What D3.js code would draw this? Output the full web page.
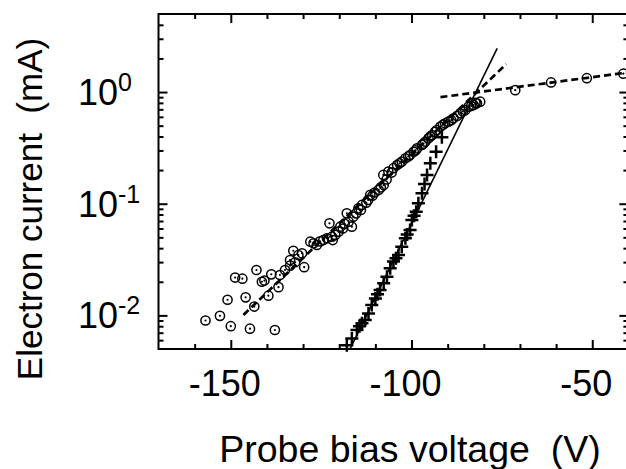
<!DOCTYPE html>
<html lang="en">
    <head>
        <meta charset="utf-8">
        <title>Probe I-V, log scale</title>
        <script type="text/javascript" src="https://d3js.org/d3.v7.min.js"></script>
        <style type="text/css">
            body { margin: 0; background: #fff; }
            text { font-family: "Liberation Sans", Arial, Helvetica, sans-serif; fill: #000; white-space: pre; }
            .frame { fill: none; stroke: #000; stroke-width: 2; }
            .axis path { display: none; }
            .axis line { stroke: #000; stroke-width: 2; }
            .fitSolid { fill: none; stroke: #000; stroke-width: 1.6; }
            .fitDash { fill: none; stroke: #000; stroke-width: 2.7; stroke-dasharray: 7, 4; }
            .circ { fill: none; stroke: #000; stroke-width: 1.5; }
            .dot { fill: #000; }
            .cross { stroke: #000; stroke-width: 2.5; }
        </style>
    </head>
    <body>
        <script type="text/javascript">
            // Tamaño
            var w = 626;
            var h = 469;

            // Ticks y etiquetas
            var xMajorTicks = [-150, -100, -50];
            var xMinorTicks = [-160, -140, -130, -120, -110, -90, -80, -70, -60, -40];
            var yMajorTicks = [0.01, 0.1, 1];
            var yExponents = ["-2", "-1", "0"];
            var yMinorTicks = [0.006, 0.007, 0.008, 0.009,
                               0.02, 0.03, 0.04, 0.05, 0.06, 0.07, 0.08, 0.09,
                               0.2, 0.3, 0.4, 0.5, 0.6, 0.7, 0.8, 0.9, 2, 3, 4];

            // Corriente de electrones (circulos)
            var circleV = [-157.0, -153.0, -150.0, -144.7, -137.8, -150.9, -145.9, -148.8, -146.8, -142.9,
                           -141.4, -140.7, -138.8, -136.8, -139.6, -143.5,
                           -136.4, -135.0, -133.6, -132.2, -133.6, -132.7, -129.7, -131.3, -130.3,
                           -128.0, -127.1, -126.2, -125.3, -124.4, -123.4, -122.0, -121.1, -122.7, -121.8,
                           -120.2, -119.7, -119.0, -118.5, -117.9, -116.5, -117.4, -116.1, -115.3, -114.7,
                           -114.0, -113.7, -112.5, -112.0, -111.4, -110.8, -110.2, -109.1, -108.5, -107.7,
                           -107.8, -106.9, -106.4, -105.5, -105.0, -104.0, -103.3, -102.7, -101.7, -100.9,
                           -100.4, -99.4, -98.9, -98.5, -97.1, -96.7, -96.2, -95.3, -94.8, -94.3, -93.5,
                           -93.0, -92.0, -91.3, -90.7, -89.8, -89.0, -88.4, -87.4,
                           -86.5, -85.8, -85.1, -84.2, -83.5, -82.8, -82.3, -81.9, -81.0,
                           -71.3, -61.4, -51.5, -41.4];
            var circleI = [0.0090, 0.0099, 0.0080, 0.0076, 0.0074, 0.0138, 0.0145, 0.0218, 0.0213, 0.0255,
                           0.0200, 0.0205, 0.0233, 0.0179, 0.0150, 0.0120,
                           0.0230, 0.0255, 0.0279, 0.0299, 0.0313, 0.0379, 0.0270, 0.0347, 0.0360,
                           0.0457, 0.0442, 0.0427, 0.0460, 0.0473, 0.0490, 0.0507, 0.0525, 0.0668, 0.0473,
                           0.0562, 0.0623, 0.0600, 0.0660, 0.0820, 0.0623, 0.0690, 0.0766, 0.0820, 0.0910,
                           0.088, 0.0975, 0.102, 0.108, 0.120, 0.118, 0.126, 0.133, 0.140, 0.147,
                           0.181, 0.165, 0.194, 0.190, 0.208, 0.222, 0.230, 0.238, 0.255, 0.265,
                           0.273, 0.292, 0.300, 0.313, 0.336, 0.345, 0.359, 0.385, 0.400, 0.412, 0.440,
                           0.457, 0.490, 0.510, 0.525, 0.543, 0.560, 0.582, 0.611,
                           0.645, 0.670, 0.690, 0.740, 0.750, 0.766, 0.800, 0.793, 0.820,
                           1.04, 1.22, 1.33, 1.46];

            // Corriente corregida (cruces)
            var crossV = [-117.9, -116.5, -115.1, -114.4, -113.7, -112.8, -111.9, -111.0, -110.0, -109.4,
                          -108.7, -107.7, -106.8, -105.9, -105.0, -104.3, -103.6, -102.7, -101.7, -101.2,
                          -100.4, -99.9, -99.3, -98.7, -98.1, -97.1, -96.4, -95.7, -94.8, -93.2, -91.6];
            var crossI = [0.0054, 0.0062, 0.0074, 0.0080, 0.0085, 0.0091, 0.0104, 0.0124, 0.0142, 0.0155,
                          0.0169, 0.0194, 0.0222, 0.0264, 0.0303, 0.0325, 0.0348, 0.0412, 0.049, 0.053,
                          0.0582, 0.0714, 0.078, 0.0849, 0.101, 0.124, 0.150, 0.181, 0.230, 0.292, 0.394];

            // Rectas de ajuste
            var fitCrossV = [-117, -76.3];
            var fitCrossI = [0.005, 2.46];
            var fitLowV = [-146.5, -73.8];
            var fitLowI = [0.0101, 1.78];
            var fitHighV = [-92, -40];
            var fitHighI = [0.9, 1.5];

            // Escalas (ojo: "top" es palabra reservada de window)
            var mLeft = 158.5, mRight = 628.4, mTop = 14, mBottom = 349;
            var xScale = d3.scaleLinear().domain([-170, -40]).range([mLeft, mRight]);
            var yScale = d3.scaleLog().domain([0.005, 5]).range([mBottom, mTop]);

            var svg = d3.select("body")
                        .append("svg")
                        .attr("width", w)
                        .attr("height", h);

            // Ticks hacia dentro en los 4 lados
            function ticks(axisFn, scale, values, size, tr) {
                svg.append("g")
                    .attr("class", "axis")
                    .attr("transform", tr)
                    .call(axisFn(scale).tickValues(values).tickSizeInner(-size).tickSizeOuter(0).tickFormat(""));
            }
            ticks(d3.axisBottom, xScale, xMajorTicks, 9, "translate(0," + mBottom + ")");
            ticks(d3.axisBottom, xScale, xMinorTicks, 5, "translate(0," + mBottom + ")");
            ticks(d3.axisTop, xScale, xMajorTicks, 9, "translate(0," + mTop + ")");
            ticks(d3.axisTop, xScale, xMinorTicks, 5, "translate(0," + mTop + ")");
            ticks(d3.axisLeft, yScale, yMajorTicks, 9, "translate(" + mLeft + ",0)");
            ticks(d3.axisLeft, yScale, yMinorTicks, 5, "translate(" + mLeft + ",0)");
            ticks(d3.axisRight, yScale, yMajorTicks, 9, "translate(" + mRight + ",0)");
            ticks(d3.axisRight, yScale, yMinorTicks, 5, "translate(" + mRight + ",0)");

            svg.append("rect")
                .attr("class", "frame")
                .attr("x", mLeft)
                .attr("y", mTop)
                .attr("width", mRight - mLeft)
                .attr("height", mBottom - mTop);

            // Etiquetas eje x
            svg.selectAll(".xlab")
                .data(xMajorTicks)
                .enter()
                .append("text")
                .attr("class", "xlab")
                .attr("x", function(d) { return xScale(d) - 6; })
                .attr("y", 396)
                .attr("text-anchor", "middle")
                .attr("font-size", 36)
                .text(function(d) { return d; });

            // Etiquetas eje y (10^n)
            var ylab = svg.selectAll(".ylab")
                .data(yMajorTicks)
                .enter()
                .append("text")
                .attr("class", "ylab")
                .attr("x", 78)
                .attr("y", function(d) { return yScale(d) + 13; })
                .attr("font-size", 36);
            ylab.append("tspan").text("10");
            ylab.append("tspan")
                .attr("dy", -14)
                .attr("font-size", 25)
                .text(function(d, i) { return yExponents[i]; });

            // Titulos
            svg.append("text")
                .attr("x", 410)
                .attr("y", 462)
                .attr("text-anchor", "middle")
                .attr("font-size", 37.5)
                .text("Probe bias voltage  (V)");

            svg.append("text")
                .attr("transform", "translate(42,209) rotate(-90)")
                .attr("text-anchor", "middle")
                .attr("font-size", 35)
                .text("Electron current  (mA)");

            // Rectas
            var line = d3.line()
                        .x(function(d) { return xScale(d[0]); })
                        .y(function(d) { return yScale(d[1]); });

            svg.append("path")
                .datum(d3.zip(fitCrossV, fitCrossI))
                .attr("class", "fitSolid")
                .attr("d", line);
            svg.append("path")
                .datum(d3.zip(fitLowV, fitLowI))
                .attr("class", "fitDash")
                .attr("d", line);
            svg.append("path")
                .datum(d3.zip(fitHighV, fitHighI))
                .attr("class", "fitDash")
                .attr("d", line);

            // Cruces
            svg.selectAll(".cross")
                .data(d3.zip(crossV, crossI))
                .enter()
                .append("path")
                .attr("class", "cross")
                .attr("transform", function(d) { return "translate(" + xScale(d[0]) + "," + yScale(d[1]) + ")"; })
                .attr("d", "M-6.5,0H6.5M0,-6.5V6.5");

            // Circulos con punto central
            var pts = svg.selectAll(".pt")
                .data(d3.zip(circleV, circleI))
                .enter()
                .append("g")
                .attr("class", "pt")
                .attr("transform", function(d) { return "translate(" + xScale(d[0]) + "," + yScale(d[1]) + ")"; });
            pts.append("circle").attr("class", "circ").attr("r", 4.6);
            pts.append("circle").attr("class", "dot").attr("r", 1.1);
        </script>
    </body>
</html>
